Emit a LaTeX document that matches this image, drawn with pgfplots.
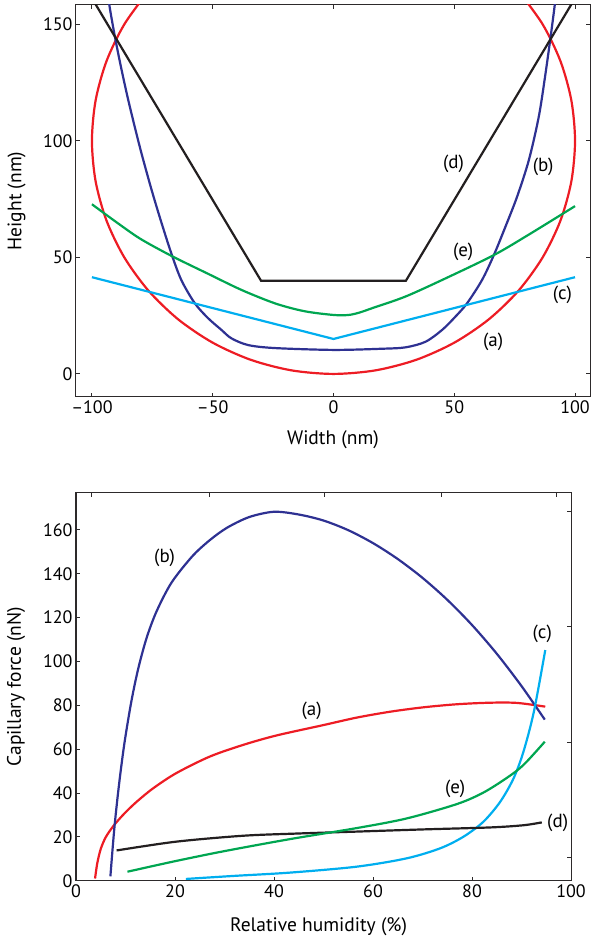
\documentclass[border=0pt]{standalone}
\usepackage{pgfplots}
\pgfplotsset{compat=1.18}
\usepackage{fontspec}
\setmainfont{PT Sans}

\definecolor{cRed}{RGB}{237,28,36}
\definecolor{cNavy}{RGB}{46,49,146}
\definecolor{cSky}{RGB}{0,174,239}
\definecolor{cGreen}{RGB}{0,166,81}
\definecolor{cBlack}{RGB}{35,31,32}
\definecolor{axisgray}{RGB}{45,42,43}

\newcommand{\tickfont}{\fontsize{18}{21}\selectfont}
\newcommand{\lblfont}{\fontsize{19.5}{22}\selectfont}
\newcommand{\tagfont}{\fontsize{19}{22}\selectfont}

\pgfplotsset{
  base/.style={
    scale only axis,
    axis line style={axisgray, line width=1pt},
    every tick/.style={axisgray, line width=1pt},
    major tick length=4pt,
    tick align=inside,
    tick label style={font=\tickfont},
    label style={font=\lblfont},
    /pgf/number format/assume math mode=true,
  },
  curve/.style={line width=2.2pt, smooth, no markers},
  seg/.style={line width=2.2pt, no markers},
}

\begin{document}
\begin{tikzpicture}
\path[use as bounding box] (0pt,0pt) rectangle (592pt,942pt);

% ---------------- meniscus profiles ----------------
\begin{axis}[base,
  at={(76pt,545pt)}, anchor=south west,
  width=514pt, height=392pt,
  xmin=-106.6, xmax=106.2, ymin=-9.9, ymax=158.3,
  xtick={-100,-50,0,50,100},
  xticklabels={–100,–50,0,50,100},
  ytick={0,50,100,150},
  xlabel={Width (nm)}, ylabel={Height (nm)},
  xlabel style={at={(axis description cs:0.5,-0.11)}, anchor=center},
  ylabel style={at={(axis description cs:-0.1154,0.5)}, anchor=center},
]
% (a) circular profile
\addplot[curve, cRed] coordinates {
 (-76.60,164.28) (-86.60,150.00) (-93.97,134.20) (-98.48,117.36) (-100,100)
 (-98.48,82.64) (-93.97,65.80) (-86.60,50.00) (-76.60,35.72) (-64.28,23.40)
 (-50.00,13.40) (-34.20,6.03) (-17.36,1.52) (0,0) (17.36,1.52) (34.20,6.03)
 (50.00,13.40) (64.28,23.40) (76.60,35.72) (86.60,50.00) (93.97,65.80)
 (98.48,82.64) (100,100) (98.48,117.36) (93.97,134.20) (86.60,150.00)
 (76.60,164.28)};
% (b)
\addplot[curve, cNavy] coordinates {
 (-94.0,168) (-92.8,158.3) (-90.5,144.7) (-88.0,131.8) (-85.3,119.0)
 (-82.3,106.1) (-79.5,94.7) (-75.7,80.4) (-72.0,67.5) (-67.2,51.9)
 (-63.0,40.3) (-57.4,30.3) (-51.9,23.9) (-46.4,18.9) (-42.3,15.3)
 (-35.4,12.4) (-24.4,11.1) (0,10.3) (20,10.8) (29.8,11.4) (38.1,13.8)
 (45.0,18.9) (50.5,24.6) (55.3,30.3) (61.5,40.3) (66.4,51.0) (71.2,63.2)
 (76.0,76.0) (80.9,91.8) (85.0,110.4) (87.6,127.6) (89.9,144.7)
 (91.6,158.3) (92.6,168)};
% (c)
\addplot[seg, cSky] coordinates {(-100,41.5) (0,15) (100,41.5)};
% (d)
\addplot[seg, cBlack] coordinates {(-100,161.2) (-30,40) (30,40) (100,161.2)};
% (e)
\addplot[curve, cGreen] coordinates {
 (-100,72.8) (-90,65.2) (-80,58.0) (-67,50.6) (-52,43.0) (-38,36.0)
 (-24,30.2) (-12,26.9) (0,25.3) (6.3,25.3) (11,26.4) (16.0,28.2)
 (29.8,33.2) (46.4,41.0) (66.4,51.0) (80.9,59.8) (100,72.0)};
\node[font=\tagfont] at (axis cs:49.7,90) {(d)};
\node[font=\tagfont] at (axis cs:86.8,88.9) {(b)};
\node[font=\tagfont] at (axis cs:53.7,52.2) {(e)};
\node[font=\tagfont] at (axis cs:94.8,33.9) {(c)};
\node[font=\tagfont] at (axis cs:66.1,13.6) {(a)};
\end{axis}

% ---------------- capillary force ----------------
\begin{axis}[base,
  at={(76pt,61.3pt)}, anchor=south west,
  width=495pt, height=388pt,
  xmin=0, xmax=100, ymin=0, ymax=177,
  xtick={0,20,...,100}, ytick={0,20,...,160},
  xtick pos=left, ytick pos=left,
  xlabel={Relative humidity (\%)}, ylabel={Capillary force (nN)},
  xlabel style={at={(axis description cs:0.49,-0.119)}, anchor=center},
  ylabel style={at={(axis description cs:-0.121,0.5)}, anchor=center},
]
% (a)
\addplot[curve, cRed] coordinates {
 (3.85,1.0) (4.3,8.0) (5.0,14.5) (6.0,19.8) (7.5,24.8) (9.5,30.0)
 (12.0,35.5) (15.5,42.0) (20.2,49.0) (27.0,56.6) (33.7,61.9) (40.4,66.2)
 (50.0,71.0) (56.7,74.4) (63.5,77.1) (70.2,79.1) (77.0,80.5) (83.7,81.2)
 (89.1,81.1) (94.8,79.4)};
% (b)
\addplot[curve, cNavy] coordinates {
 (6.95,2) (7.75,24) (8.7,44) (9.8,63) (11.2,82) (12.6,97) (14.3,111)
 (16.3,123) (19.3,136) (23.5,148.0) (27.0,155.3) (30.5,161.0) (35.0,165.9)
 (40.0,168.3) (45.0,167.05) (50.0,164.3) (55.0,159.9) (60.0,154.0)
 (65.0,146.75) (70.0,138.15) (75.0,128.15) (80.0,116.65) (85.0,103.55)
 (90.0,88.8) (94.7,73.5)};
% (c)
\addplot[curve, cSky] coordinates {
 (22.2,0.8) (32,2.2) (43.3,3.7) (56.7,6.4) (66.8,10.2) (73.6,14.8)
 (78.3,20.1) (82.3,26.9) (85.7,36.0) (88.4,46.7) (90.4,58.9) (92.5,77.1)
 (94.8,105.2)};
% (d)
\addplot[curve, cBlack] coordinates {
 (8.2,13.8) (20.2,17.8) (33.7,20.5) (44.5,21.5) (56.7,22.4) (70.2,23.4)
 (83.7,24.3) (90.4,25.3) (94.1,26.6)};
% (e)
\addplot[curve, cGreen] coordinates {
 (10.4,4.1) (20,8.9) (30,13.5) (43.3,19.0) (56.7,24.0) (66.8,28.4)
 (77.0,35.0) (82.3,40.2) (87.1,47.0) (90.4,52.8) (94.7,63.4)};
\node[font=\tagfont] at (axis cs:17.9,147.5) {(b)};
\node[font=\tagfont] at (axis cs:47.6,77.5) {(a)};
\node[font=\tagfont] at (axis cs:94.2,112.4) {(c)};
\node[font=\tagfont] at (axis cs:76.6,42.1) {(e)};
\node[font=\tagfont] at (axis cs:97.3,26.2) {(d)};
\end{axis}

% top and right ticks of the lower frame
\begin{axis}[base,
  at={(76pt,61.3pt)}, anchor=south west,
  width=495pt, height=388pt,
  xmin=0, xmax=100, ymin=0, ymax=177,
  xtick pos=right, ytick pos=right,
  xtick={3.2,26.9,50.3,73.8,97.1}, ytick={10.4,63,115.9,168.3},
  xticklabels={}, yticklabels={},
]
\end{axis}
\end{tikzpicture}
\end{document}
